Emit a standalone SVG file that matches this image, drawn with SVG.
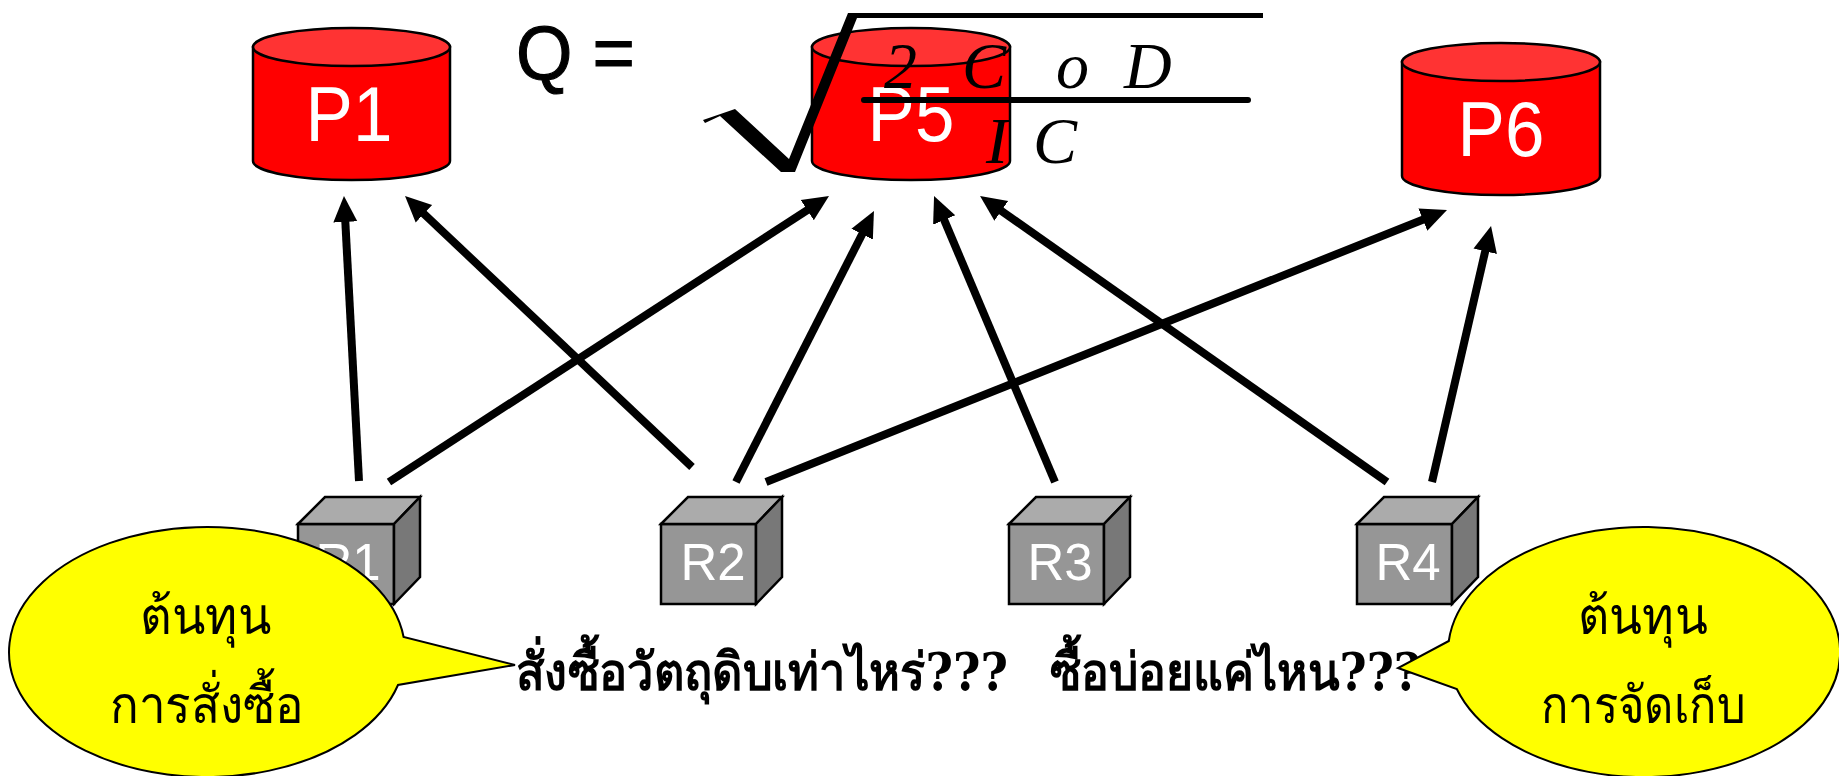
<svg xmlns="http://www.w3.org/2000/svg" width="1839" height="776" viewBox="0 0 1839 776">
<style>
.lab{font-family:"Liberation Sans",Arial,sans-serif;fill:#fff;text-anchor:middle}
.p{font-size:71px}.r{font-size:51px}
.cb{fill:#f00;stroke:#000;stroke-width:2.5}
.ct{fill:#f33;stroke:#000;stroke-width:2.5}
.f{fill:#969696}.tp{fill:#ababab}.sd{fill:#787878}
.bx path,.bx rect{stroke:#000;stroke-width:2.5;stroke-linejoin:miter}
.conn line{stroke:#000;stroke-width:8;marker-end:url(#a)}
.call{fill:#ff0;stroke:#000;stroke-width:2}
.th{font-family:"DejaVu Serif","DejaVu Sans","Noto Sans",sans-serif;fill:#000}
.tc{font-size:40px}
.m{font-family:"Liberation Serif","Times New Roman",serif;font-style:italic;font-size:66px;fill:#000}
</style>
<defs>
<marker id="a" markerUnits="userSpaceOnUse" markerWidth="26" markerHeight="26" refX="12" refY="13" orient="auto"><path d="M0 1L26 13L0 25Z" fill="#000"/></marker>
</defs>
<g id="P1"><path class="cb" d="M253 47V161A98.500 19 0 0 0 450 161V47Z"/><ellipse class="ct" cx="351.500" cy="47" rx="98.500" ry="19"/><text class="lab p" transform="translate(349 141) scale(1 1.1)">P1</text></g>
<g id="P5"><path class="cb" d="M812 47V161A99 19 0 0 0 1010 161V47Z"/><ellipse class="ct" cx="911" cy="47" rx="99" ry="19"/><text class="lab p" transform="translate(911 141) scale(1 1.1)">P5</text></g>
<g id="P6"><path class="cb" d="M1402 62V176A99 19 0 0 0 1600 176V62Z"/><ellipse class="ct" cx="1501" cy="62" rx="99" ry="19"/><text class="lab p" transform="translate(1501 156) scale(1 1.1)">P6</text></g>
<g id="R1" class="bx"><rect class="f" x="298" y="524" width="96" height="80"/><path class="tp" d="M298 524L325 497H420L394 524Z"/><path class="sd" d="M394 524L420 497V577L394 604Z"/><text class="lab r" x="348" y="580" stroke="none">R1</text></g>
<g id="R2" class="bx"><rect class="f" x="661" y="524" width="95" height="80"/><path class="tp" d="M661 524L688 497H782L756 524Z"/><path class="sd" d="M756 524L782 497V577L756 604Z"/><text class="lab r" x="713" y="580" stroke="none">R2</text></g>
<g id="R3" class="bx"><rect class="f" x="1009" y="524" width="95" height="80"/><path class="tp" d="M1009 524L1036 497H1130L1104 524Z"/><path class="sd" d="M1104 524L1130 497V577L1104 604Z"/><text class="lab r" x="1060" y="580" stroke="none">R3</text></g>
<g id="R4" class="bx"><rect class="f" x="1357" y="524" width="95" height="80"/><path class="tp" d="M1357 524L1384 497H1478L1452 524Z"/><path class="sd" d="M1452 524L1478 497V577L1452 604Z"/><text class="lab r" x="1408" y="580" stroke="none">R4</text></g>
<g id="connectors" class="conn">
<line x1="359" y1="481" x2="344.700" y2="210"/>
<line x1="692" y1="467" x2="415.200" y2="205.600"/>
<line x1="389" y1="482" x2="817.300" y2="203.600"/>
<line x1="736" y1="482" x2="867.600" y2="223.500"/>
<line x1="1055" y1="482" x2="939.500" y2="208.900"/>
<line x1="1387" y1="482" x2="991.500" y2="204"/>
<line x1="766" y1="482" x2="1434" y2="215.200"/>
<line x1="1432" y1="482" x2="1487.900" y2="239.600"/>
</g>
<g id="formula">
<text transform="translate(516 79) scale(1 1.13)" font-family="Liberation Sans,Arial,sans-serif" font-size="68" fill="#000" stroke="#000" stroke-width="1" textLength="119" lengthAdjust="spacingAndGlyphs">Q =</text>
<path d="M703 120L735 109L789 159L848 13H1263V18H857L795 172H781L720 116L705 123Z" fill="#000"/>
<line x1="864" y1="100" x2="1248" y2="100" stroke="#000" stroke-width="6" stroke-linecap="round"/>
<text class="m" x="884" y="88">2</text><text class="m" x="962" y="88">C</text><text class="m" x="1056" y="88">o</text><text class="m" x="1124" y="88">D</text>
<text class="m" x="986" y="163">I</text><text class="m" x="1033" y="163">C</text>
</g>
<g id="question"><text class="th" font-size="40" font-weight="bold" transform="translate(516 690) scale(1 1.3)" textLength="492" lengthAdjust="spacingAndGlyphs">สั่งซื้อวัตถุดิบเท่าไหร่???</text><text class="th" font-size="40" font-weight="bold" transform="translate(1050 690) scale(1 1.3)" textLength="371" lengthAdjust="spacingAndGlyphs">ซื้อบ่อยแค่ไหน???</text></g>
<g id="callout-left"><path class="call" d="M403.600 637A198 125 0 1 0 398 685L515 665Z"/><text class="th tc" transform="translate(140 634) scale(1 1.3)" textLength="132" lengthAdjust="spacingAndGlyphs">ต้นทุน</text><text class="th tc" transform="translate(110 723) scale(1 1.3)" textLength="194" lengthAdjust="spacingAndGlyphs">การสั่งซื้อ</text></g>
<g id="callout-right"><path class="call" d="M1448.800 641A196 125 0 1 1 1456.800 689L1398 668Z"/><text class="th tc" transform="translate(1578 634) scale(1 1.3)" textLength="130" lengthAdjust="spacingAndGlyphs">ต้นทุน</text><text class="th tc" transform="translate(1541 723) scale(1 1.3)" textLength="204" lengthAdjust="spacingAndGlyphs">การจัดเก็บ</text></g>
</svg>
